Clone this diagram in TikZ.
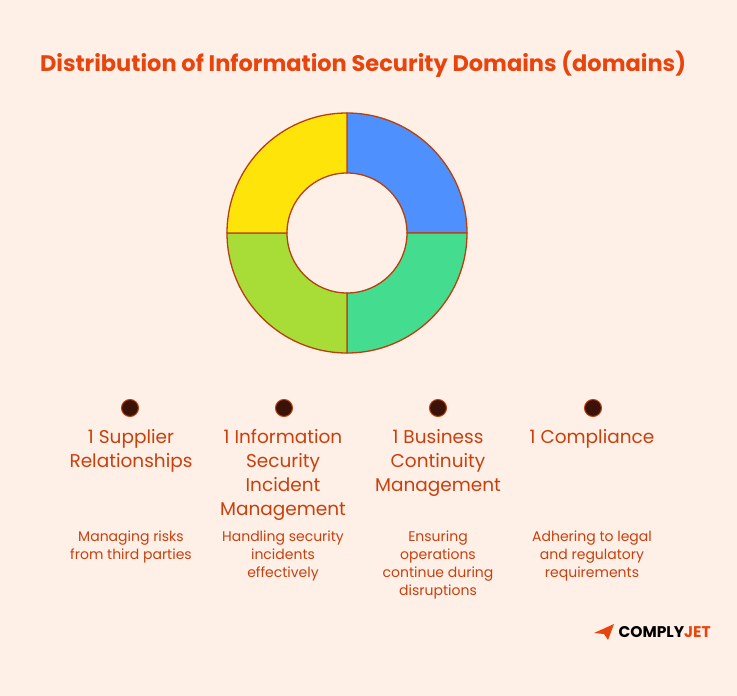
\documentclass[tikz,border=0pt]{standalone}
\usepackage{fontspec}
\setmainfont{Poppins}
\definecolor{bg}{HTML}{FFF0E7}
\definecolor{ttl}{HTML}{E8440E}
\definecolor{txt}{HTML}{C8400E}
\definecolor{edge}{HTML}{B8400E}
\definecolor{cblue}{HTML}{4D90FE}
\definecolor{cgreen}{HTML}{44DD8F}
\definecolor{clime}{HTML}{A8DD38}
\definecolor{cyel}{HTML}{FFE40A}
\definecolor{dot}{HTML}{3A1208}
\begin{document}
\begin{tikzpicture}[x=1pt,y=-1pt,
  seg/.style={draw=edge,line width=1.3pt},
  dotn/.style={circle,fill=dot,draw=edge,line width=1pt,minimum size=17pt,inner sep=0pt},
  head/.style={text=txt,font=\fontsize{18.5}{24}\selectfont,align=center,anchor=north},
  desc/.style={text=txt,font=\fontsize{14}{18}\selectfont,align=center,anchor=north}]
\fill[bg] (0,0) rectangle (737,696);
\useasboundingbox (0,0) rectangle (737,696);
\node[text=ttl,font=\fontsize{22.5}{26}\selectfont\bfseries] (title) at (363,64) {Distribution of Information Security Domains (domains)};
\coordinate (c) at (347,233);
\def\R{120}\def\r{60}
\filldraw[seg,fill=cblue] (c) ++(0:\R) arc[start angle=0,end angle=-90,radius=\R] -- ++(0,\R-\r) arc[start angle=-90,end angle=0,radius=\r] -- cycle;
\filldraw[seg,fill=cgreen] (c) ++(0:\R) arc[start angle=0,end angle=90,radius=\R] -- ++(0,-\R+\r) arc[start angle=90,end angle=0,radius=\r] -- cycle;
\filldraw[seg,fill=clime] (c) ++(180:\R) arc[start angle=180,end angle=90,radius=\R] -- ++(0,-\R+\r) arc[start angle=90,end angle=180,radius=\r] -- cycle;
\filldraw[seg,fill=cyel] (c) ++(180:\R) arc[start angle=180,end angle=270,radius=\R] -- ++(0,\R-\r) arc[start angle=270,end angle=180,radius=\r] -- cycle;
\node[dotn] (d1) at (130,408) {};
\node[dotn] (d2) at (284,408) {};
\node[dotn] (d3) at (438,408) {};
\node[dotn] (d4) at (593,408) {};
\node[head] (h1) at (131,426) {1 Supplier\\Relationships};
\node[head] (h2) at (283,426) {1 Information\\Security\\Incident\\Management};
\node[head] (h3) at (438,426) {1 Business\\Continuity\\Management};
\node[head] (h4) at (592,426) {1 Compliance};
\node[desc] (t1) at (131,527) {Managing risks\\from third parties};
\node[desc] (t2) at (283,527) {Handling security\\incidents\\effectively};
\node[desc] (t3) at (438,527) {Ensuring\\operations\\continue during\\disruptions};
\node[desc] (t4) at (592,527) {Adhering to legal\\and regulatory\\requirements};
\fill[ttl] (594,633) -- (614,624) -- (608,640) -- (604,634) -- cycle;
\node[anchor=west,font=\fontsize{15.5}{17}\selectfont\bfseries] (logo) at (615,632) {COMPLY\textcolor{ttl}{JET}};
\end{tikzpicture}
\end{document}
